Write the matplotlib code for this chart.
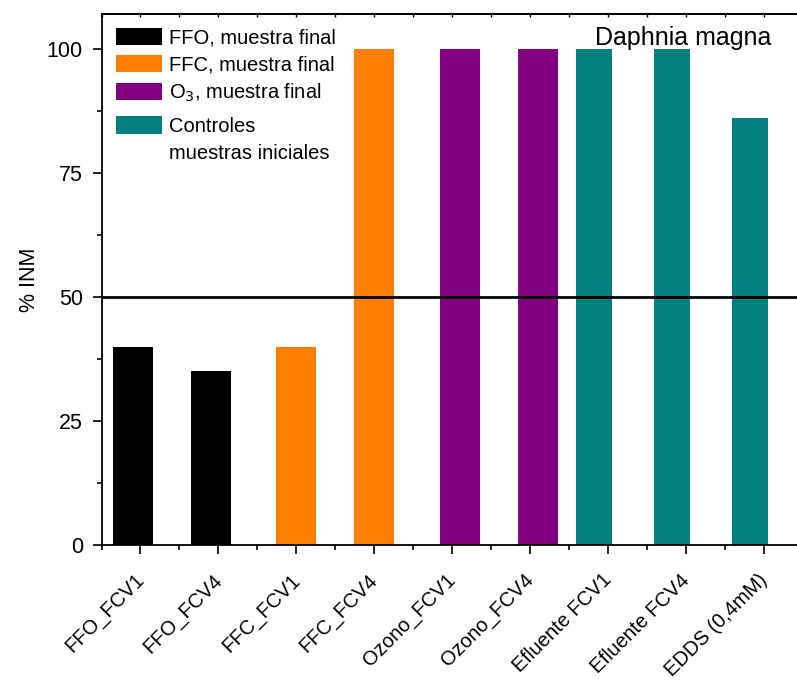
import matplotlib
matplotlib.use("Agg")
import matplotlib.pyplot as plt
from matplotlib.patches import Patch
from matplotlib.ticker import MultipleLocator
from matplotlib.transforms import ScaledTranslation

plt.rcParams['font.family'] = ['Liberation Sans', 'DejaVu Sans']

categories = ["FFO_FCV1", "FFO_FCV4", "FFC_FCV1", "FFC_FCV4", "Ozono_FCV1",
              "Ozono_FCV4", "Efluente FCV1", "Efluente FCV4", "EDDS (0,4mM)"]
series_names = ["FFO, muestra final", "FFC, muestra final",
                r"O$_3$, muestra final", "Controles"]
series_colors = ["#000000", "#FF8000", "#800080", "#008080"]
series_positions = [[1, 2], [3, 4], [5, 6], [7, 8, 9]]
series_values = [[40, 35], [40, 100], [100, 100], [100, 100, 86]]
series_offsets = [-0.095, 0.0, 0.1, -0.175]
series_widths = [0.515, 0.515, 0.515, 0.465]
threshold = 50

fig = plt.figure(figsize=(7.97, 6.84), dpi=100)
ax = fig.add_axes([0.1274, 0.2032, 1.007 - 0.1274, 0.9795 - 0.2032])

for name, color, pos, vals, off, w in zip(series_names, series_colors,
                                          series_positions, series_values,
                                          series_offsets, series_widths):
    ax.bar([p + off for p in pos], vals, width=w, color=color, zorder=2)

ax.axhline(threshold, color="black", lw=2, zorder=3)

ax.set_xlim(0.5, 9.5)
ax.set_ylim(0, 107)
ax.set_xticks(range(1, len(categories) + 1))
ax.set_xticklabels(categories, rotation=45, ha="right", rotation_mode="anchor",
                   fontsize=14.5)
ax.xaxis.set_minor_locator(MultipleLocator(1, offset=0.5))
ax.set_yticks([0, 25, 50, 75, 100])
ax.yaxis.set_minor_locator(MultipleLocator(12.5))
ax.tick_params(axis="both", which="major", direction="out", length=6.5, width=1.2,
               top=False, right=False)
ax.tick_params(axis="both", which="minor", direction="out", length=3.3, width=1.2,
               top=False, right=False)
ax.tick_params(axis="y", which="major", labelsize=15.5, pad=7)
ax.tick_params(axis="x", which="major", labelsize=14.5, pad=6)
offset = ScaledTranslation(-0.06, -0.08, fig.dpi_scale_trans)
for lab in ax.get_xticklabels():
    lab.set_transform(lab.get_transform() + offset)

secx = ax.secondary_xaxis("top")
secx.set_xticks([x * 0.5 + 0.5 for x in range(0, 19)])
secx.tick_params(direction="in", length=2.5, width=1, labeltop=False)
secx.set_xticklabels([])
for s in ax.spines.values():
    s.set_linewidth(1.3)
secx.spines["top"].set_linewidth(1.3)

ax.set_ylabel("% INM", fontsize=15.5, labelpad=5)

handles = [Patch(facecolor=c, edgecolor="none") for c in series_colors]
leg_kw = dict(loc="upper left", frameon=False, fontsize=14.5,
              handlelength=2.3, handleheight=0.95, handletextpad=0.35,
              labelspacing=0.35, borderaxespad=0.3)
leg1 = ax.legend(handles[:3], series_names[:3], bbox_to_anchor=(0.0, 1.0), **leg_kw)
ax.add_artist(leg1)
ax.legend([handles[3], Patch(facecolor="none", edgecolor="none")],
          [series_names[3], "muestras iniciales"],
          bbox_to_anchor=(0.0, 0.834), **leg_kw)

ax.text(0.829, 0.955, "Daphnia magna", transform=ax.transAxes, fontsize=18,
        ha="center", va="center")

fig.savefig("out.png", dpi=100)
